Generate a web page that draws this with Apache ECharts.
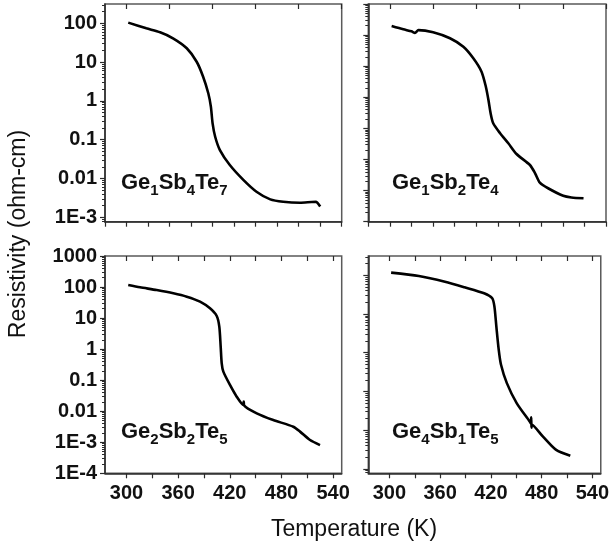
<!DOCTYPE html>
<html>
<head>
<meta charset="utf-8">
<script src="https://cdn.jsdelivr.net/npm/echarts@6/dist/echarts.min.js"></script>
<style>
  html, body { margin: 0; padding: 0; background: #fff; }
  #chart { width: 612px; height: 548px; }
</style>
</head>
<body>
<div id="chart"></div>
<script>
// Resistivity (ohm-cm) versus temperature (K) for four Ge-Sb-Te films

const ge1sb4te7T = [302, 323, 339, 354, 370, 381.5, 389, 395, 398, 400, 403, 408.5, 420, 436, 451, 467, 482, 501.5, 515, 520, 525];
const ge1sb4te7R = [104, 74, 58.5, 41, 22.7, 10.2, 4.2, 1.57, 0.71, 0.264, 0.119, 0.054, 0.0223, 0.0091, 0.00457, 0.0029, 0.00252, 0.00238, 0.00248, 0.0025, 0.0019];

const ge1sb2te4T = [302, 315.5, 325, 329, 333, 350, 369.5, 385, 396.5, 406, 411, 414, 416.5, 419.5, 427.5, 437, 446.5, 462, 468, 473.5, 483, 500.5, 510, 524];
const ge1sb2te4R = [196, 153, 132, 118, 145, 123, 79, 42, 17.9, 6.65, 2.19, 0.82, 0.306, 0.146, 0.0697, 0.0332, 0.015, 0.00665, 0.0036, 0.0018, 0.00119, 0.00068, 0.0006, 0.000565];

const ge2sb2te5T = [302, 315.7, 335, 354.4, 370, 385.4, 397, 404.8, 407.8, 409.4, 410.6, 412.5, 420.2, 428, 435.7, 436.2, 436.7, 451.3, 470.5, 493.8, 501.6, 513.2, 524.8];
const ge2sb2te5R = [116, 98, 80, 63, 49, 33.8, 20.6, 11.7, 5.3, 1.2, 0.35, 0.188, 0.070, 0.0294, 0.0159, 0.0205, 0.0153, 0.00855, 0.0052, 0.00316, 0.0022, 0.00118, 0.00081];

const ge4sb1te5T = [302, 334.8, 365.7, 388.8, 412, 421.6, 424.2, 426.5, 429.3, 432, 438.9, 450.5, 465.9, 467.4, 467.7, 468.0, 468.4, 481.4, 496.8, 514];
const ge4sb1te5R = [117, 95.5, 68, 49, 34.3, 25.5, 15.5, 4.7, 1.19, 0.49, 0.164, 0.050, 0.0168, 0.0148, 0.0215, 0.0116, 0.0140, 0.0069, 0.00314, 0.0022];

// Axis ranges and tick labels
const tempMin = 275;
const tempMax = 550;
const tempTicksTopRow = [275, 300, 325, 350, 375, 400, 425, 450, 475, 500, 525, 550];
const tempTicksTopEdgeTopRow = [300, 350, 400, 450, 500, 550];
const tempTicksBottomRow = [300, 330, 360, 390, 420, 450, 480, 510, 540];
const tempLabels = [300, 360, 420, 480, 540];

const yRangeNarrow = [7.7e-4, 314];
const yRangeWide = [1e-4, 1000];
const yTicksNarrow = [1e-3, 0.01, 0.1, 1, 10, 100];
const yLabelsNarrow = ['1E-3', '0.01', '0.1', '1', '10', '100'];
const yTicksWide = [1e-4, 1e-3, 0.01, 0.1, 1, 10, 100, 1000];
const yLabelsWide = ['1E-4', '1E-3', '0.01', '0.1', '1', '10', '100', '1000'];

// minor log ticks (2..9 x 10^k) inside a range
function minorLogTicks(range) {
  const out = [];
  for (let e = -5; e <= 3; e++) {
    for (let m = 2; m <= 9; m++) {
      const v = m * Math.pow(10, e);
      if (v > range[0] && v < range[1]) out.push(v);
    }
  }
  return out;
}

const FONT = '"Liberation Sans", Arial, Helvetica, sans-serif';
const AXIS_COLOR = '#2a2a2a';

const panels = [
  { name: 'Ge1Sb4Te7', T: ge1sb4te7T, R: ge1sb4te7R, grid: { left: 105, top: 4, width: 236.7, height: 217.7 },
    yRange: yRangeNarrow, yTicks: yTicksNarrow, yLabels: yLabelsNarrow, showY: true, topRow: true },
  { name: 'Ge1Sb2Te4', T: ge1sb2te4T, R: ge1sb2te4R, grid: { left: 368.3, top: 4, width: 237.7, height: 217.7 },
    yRange: yRangeWide, yTicks: yTicksWide, yLabels: yLabelsWide, showY: false, topRow: true },
  { name: 'Ge2Sb2Te5', T: ge2sb2te5T, R: ge2sb2te5R, grid: { left: 105, top: 256, width: 236.7, height: 217.3 },
    yRange: yRangeWide, yTicks: yTicksWide, yLabels: yLabelsWide, showY: true, topRow: false },
  { name: 'Ge4Sb1Te5', T: ge4sb1te5T, R: ge4sb1te5R, grid: { left: 368.3, top: 256, width: 237.7, height: 217.3 },
    yRange: yRangeNarrow, yTicks: yTicksNarrow, yLabels: yLabelsNarrow, showY: false, topRow: false }
];

const grids = [], xAxes = [], yAxes = [], series = [];

panels.forEach((p, g) => {
  grids.push(Object.assign({ show: true, borderColor: '#5a5a5a', borderWidth: 1.5, backgroundColor: 'transparent' }, p.grid));

  // bottom temperature axis
  xAxes.push({
    type: 'value', gridIndex: g, position: 'bottom', min: tempMin, max: tempMax,
    axisLine: { show: true, lineStyle: { color: AXIS_COLOR, width: 1.5 } },
    axisTick: { show: true, inside: false, length: 5, lineStyle: { color: AXIS_COLOR, width: 1.2 },
      customValues: p.topRow ? tempTicksTopRow : tempTicksBottomRow },
    axisLabel: { show: !p.topRow, customValues: tempLabels, margin: 10,
      fontFamily: FONT, fontSize: 20, fontWeight: 'bold', color: '#111' },
    splitLine: { show: false }
  });
  // top edge ticks
  xAxes.push({
    type: 'value', gridIndex: g, position: 'top', min: tempMin, max: tempMax,
    axisLine: { show: false },
    axisTick: { show: true, inside: true, length: 5, lineStyle: { color: AXIS_COLOR, width: 1.2 },
      customValues: p.topRow ? tempTicksTopEdgeTopRow : tempTicksBottomRow },
    axisLabel: { show: false },
    splitLine: { show: false }
  });

  // resistivity axis with decade ticks
  yAxes.push({
    type: 'log', logBase: 10, gridIndex: g, position: 'left', min: p.yRange[0], max: p.yRange[1],
    axisLine: { show: true, lineStyle: { color: AXIS_COLOR, width: 1.5 } },
    axisTick: { show: true, inside: false, length: 5, lineStyle: { color: AXIS_COLOR, width: 1.2 }, customValues: p.yTicks },
    axisLabel: {
      show: p.showY, customValues: p.yTicks, margin: 8,
      fontFamily: FONT, fontSize: 20, fontWeight: 'bold', color: '#111',
      formatter: (v) => {
        let best = 0, bd = Infinity;
        p.yTicks.forEach((t, i) => { const d = Math.abs(Math.log10(t) - Math.log10(v)); if (d < bd) { bd = d; best = i; } });
        return p.yLabels[best];
      }
    },
    splitLine: { show: false }
  });
  // minor log ticks
  yAxes.push({
    type: 'log', logBase: 10, gridIndex: g, position: 'left', min: p.yRange[0], max: p.yRange[1],
    axisLine: { show: false },
    axisTick: { show: true, inside: false, length: 3, lineStyle: { color: AXIS_COLOR, width: 1 }, customValues: minorLogTicks(p.yRange) },
    axisLabel: { show: false },
    splitLine: { show: false }
  });

  series.push({
    name: p.name, type: 'line', xAxisIndex: 2 * g, yAxisIndex: 2 * g,
    data: p.T.map((t, i) => [t, p.R[i]]),
    showSymbol: false, symbol: 'none', smooth: 0.25, clip: true,
    lineStyle: { color: '#000', width: 2.6 },
    animation: false
  });
});

// rich-text formula labels with subscripts
function formula(parts) {
  return parts.map(([el, n]) => '{m|' + el + '}{s|' + n + '}').join('');
}
const richFormula = {
  m: { fontFamily: FONT, fontSize: 22, fontWeight: 'bold', fill: '#111', lineHeight: 26, verticalAlign: 'bottom' },
  s: { fontFamily: FONT, fontSize: 15, fontWeight: 'bold', fill: '#111', lineHeight: 26, verticalAlign: 'bottom', padding: [0, 0, -4, 0] }
};
const formulaLabels = [
  { x: 121, y: 172, parts: [['Ge', 1], ['Sb', 4], ['Te', 7]] },
  { x: 392, y: 172, parts: [['Ge', 1], ['Sb', 2], ['Te', 4]] },
  { x: 121, y: 421, parts: [['Ge', 2], ['Sb', 2], ['Te', 5]] },
  { x: 392, y: 421, parts: [['Ge', 4], ['Sb', 1], ['Te', 5]] }
];

const graphics = formulaLabels.map((f) => ({
  type: 'text', left: f.x, top: f.y, z: 10,
  style: { text: formula(f.parts), rich: richFormula }
}));
graphics.push({
  type: 'text', x: 19, y: 234, rotation: Math.PI / 2, z: 10,
  style: { text: 'Resistivity (ohm-cm)', fontFamily: FONT, fontSize: 23, fill: '#111', align: 'center', verticalAlign: 'middle' }
});
graphics.push({
  type: 'text', x: 354, y: 530, z: 10,
  style: { text: 'Temperature (K)', fontFamily: FONT, fontSize: 23, fill: '#111', align: 'center', verticalAlign: 'middle' }
});

const chart = echarts.init(document.getElementById('chart'), null, { renderer: 'canvas' });
chart.setOption({
  animation: false,
  backgroundColor: '#fff',
  grid: grids,
  xAxis: xAxes,
  yAxis: yAxes,
  series: series,
  graphic: graphics
});
</script>
</body>
</html>
